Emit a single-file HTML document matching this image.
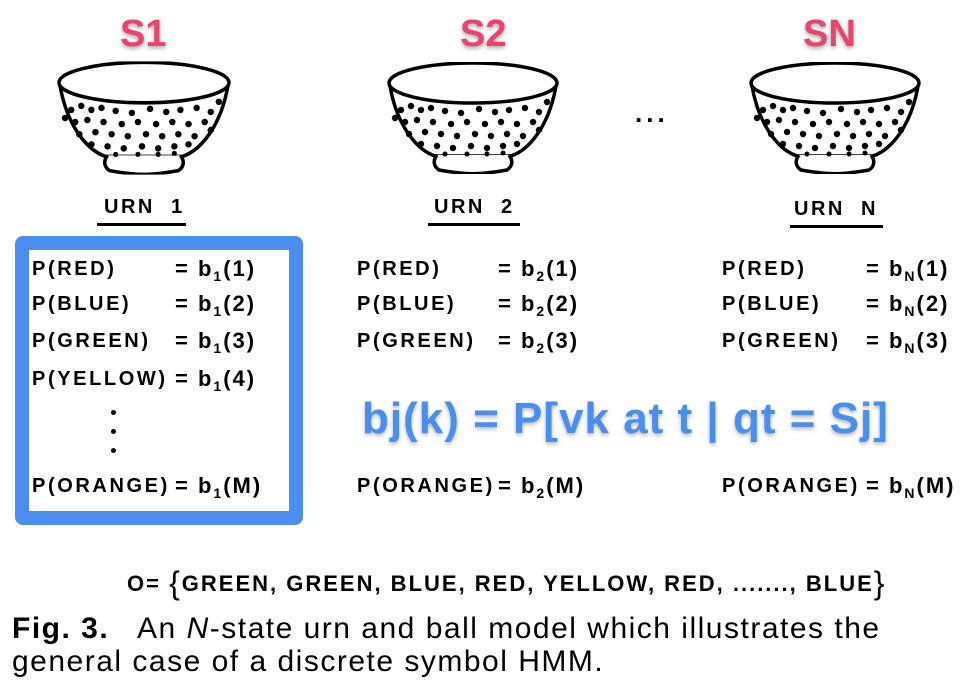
<!DOCTYPE html>
<html><head><meta charset="utf-8"><style>
body{margin:0;width:972px;height:694px;background:#fff;position:relative;overflow:hidden;font-family:"Liberation Sans",sans-serif}
.a{position:absolute;white-space:pre}
.s{font-weight:bold;font-size:38px;color:#e9456f;text-shadow:0 2px 4px rgba(0,0,0,.35),0 0 2px #fff}
.t{font-weight:bold;font-size:20px;letter-spacing:2.6px;color:#000}
.e{font-size:22px;letter-spacing:2px}
.u{font-weight:bold;font-size:20px;letter-spacing:2.5px}
.ul{position:absolute;height:3px;background:#000}
sub{font-size:14px;vertical-align:-5px}
</style></head><body>
<svg width="0" height="0" style="position:absolute">
<defs><symbol id="bowl" viewBox="0 0 172 112">
<path d="M3 24 C10 64 30 88 48 94 L124 94 C142 88 162 64 169 24" fill="#fff" stroke="#000" stroke-width="3.5"/>
<path d="M50 93 C46 98 46 104 52 108 C80 113 92 113 120 108 C126 104 126 98 122 93" fill="#fff" stroke="#000" stroke-width="3.5"/>
<ellipse cx="86" cy="21" rx="84" ry="20" fill="#fff" stroke="#000" stroke-width="3.5"/>
<g fill="#000">
<circle cx="14" cy="48" r="3.2"/><circle cx="24" cy="44" r="3.2"/><circle cx="34" cy="48" r="3.2"/><circle cx="44" cy="46" r="3.2"/><circle cx="58" cy="49" r="3.2"/><circle cx="74" cy="51" r="3.2"/><circle cx="92" cy="47" r="3.2"/><circle cx="108" cy="50" r="3.2"/><circle cx="122" cy="48" r="3.2"/><circle cx="138" cy="46" r="3.2"/><circle cx="152" cy="50" r="3.2"/><circle cx="160" cy="40" r="3.2"/>
<circle cx="18" cy="60" r="3.2"/><circle cx="30" cy="58" r="3.2"/><circle cx="46" cy="60" r="3.2"/><circle cx="64" cy="62" r="3.2"/><circle cx="80" cy="60" r="3.2"/><circle cx="98" cy="62" r="3.2"/><circle cx="114" cy="60" r="3.2"/><circle cx="130" cy="62" r="3.2"/><circle cx="146" cy="60" r="3.2"/><circle cx="8" cy="56" r="3.2"/>
<circle cx="22" cy="72" r="3.2"/><circle cx="38" cy="70" r="3.2"/><circle cx="54" cy="72" r="3.2"/><circle cx="70" cy="74" r="3.2"/><circle cx="88" cy="72" r="3.2"/><circle cx="104" cy="74" r="3.2"/><circle cx="120" cy="72" r="3.2"/><circle cx="136" cy="74" r="3.2"/><circle cx="152" cy="68" r="3.2"/>
<circle cx="34" cy="82" r="3.2"/><circle cx="50" cy="84" r="3.2"/><circle cx="66" cy="86" r="3.2"/><circle cx="84" cy="84" r="3.2"/><circle cx="100" cy="86" r="3.2"/><circle cx="116" cy="84" r="3.2"/><circle cx="130" cy="82" r="3.2"/>
<circle cx="58" cy="92" r="2.5"/><circle cx="80" cy="92" r="2.5"/><circle cx="100" cy="92" r="2.5"/><circle cx="116" cy="91" r="2.5"/>
</g></symbol></defs></svg>

<div class="a s" style="left:120px;top:13px">S1</div>
<div class="a s" style="left:460px;top:13px">S2</div>
<div class="a s" style="left:803px;top:13px">SN</div>

<svg class="a" style="left:57px;top:61px" width="174" height="114" viewBox="0 0 172 112"><use href="#bowl"/></svg>
<svg class="a" style="left:387px;top:61px" width="172" height="114" viewBox="0 0 172 112"><use href="#bowl"/></svg>
<svg class="a" style="left:749px;top:62px" width="172" height="112" viewBox="0 0 172 112"><use href="#bowl"/></svg>

<div class="a" style="left:635px;top:98px;font-size:26px;font-weight:bold;letter-spacing:4px">...</div>

<div class="a u" style="left:104px;top:196px">URN  1</div><div class="ul" style="left:97px;top:223px;width:89px"></div>
<div class="a u" style="left:434px;top:196px">URN  2</div><div class="ul" style="left:428px;top:223px;width:92px"></div>
<div class="a u" style="left:794px;top:198px">URN  N</div><div class="ul" style="left:790px;top:225px;width:93px"></div>

<div class="a" style="left:15px;top:236px;width:260px;height:261px;border:14px solid #4a8ef0;border-radius:8px"></div>

<div class="a t" style="left:32px;top:258px">P(RED)</div><div class="a t e" style="left:175px;top:256px">= b<sub>1</sub>(1)</div>
<div class="a t" style="left:32px;top:293px">P(BLUE)</div><div class="a t e" style="left:175px;top:291px">= b<sub>1</sub>(2)</div>
<div class="a t" style="left:32px;top:330px">P(GREEN)</div><div class="a t e" style="left:175px;top:328px">= b<sub>1</sub>(3)</div>
<div class="a t" style="left:32px;top:368px">P(YELLOW)</div><div class="a t e" style="left:175px;top:366px">= b<sub>1</sub>(4)</div>
<div class="a" style="left:111px;top:410px;width:5px;height:5px;border-radius:50%;background:#000"></div>
<div class="a" style="left:111px;top:429px;width:5px;height:5px;border-radius:50%;background:#000"></div>
<div class="a" style="left:111px;top:448px;width:5px;height:5px;border-radius:50%;background:#000"></div>
<div class="a t" style="left:32px;top:475px">P(ORANGE)</div><div class="a t e" style="left:175px;top:473px">= b<sub>1</sub>(M)</div>

<div class="a t" style="left:357px;top:258px">P(RED)</div><div class="a t e" style="left:498px;top:256px">= b<sub>2</sub>(1)</div>
<div class="a t" style="left:357px;top:293px">P(BLUE)</div><div class="a t e" style="left:498px;top:291px">= b<sub>2</sub>(2)</div>
<div class="a t" style="left:357px;top:330px">P(GREEN)</div><div class="a t e" style="left:498px;top:328px">= b<sub>2</sub>(3)</div>
<div class="a t" style="left:357px;top:475px">P(ORANGE)</div><div class="a t e" style="left:498px;top:473px">= b<sub>2</sub>(M)</div>

<div class="a t" style="left:722px;top:258px">P(RED)</div><div class="a t e" style="left:866px;top:256px">= b<sub>N</sub>(1)</div>
<div class="a t" style="left:722px;top:293px">P(BLUE)</div><div class="a t e" style="left:866px;top:291px">= b<sub>N</sub>(2)</div>
<div class="a t" style="left:722px;top:330px">P(GREEN)</div><div class="a t e" style="left:866px;top:328px">= b<sub>N</sub>(3)</div>
<div class="a t" style="left:722px;top:475px">P(ORANGE)</div><div class="a t e" style="left:866px;top:473px">= b<sub>N</sub>(M)</div>

<div class="a" style="left:362px;top:394px;font-size:44px;font-weight:bold;letter-spacing:1px;color:#4a8ef0;text-shadow:0 2px 4px rgba(0,0,0,.3),0 0 3px #fff">bj(k) = P[vk at t | qt = Sj]</div>

<div class="a" style="left:127px;top:565px;font-size:22px;font-weight:bold;letter-spacing:2px">O= <span style="font-size:32px;font-weight:normal;vertical-align:-3px">{</span>GREEN, GREEN, BLUE, RED, YELLOW, RED, ......., BLUE<span style="font-size:32px;font-weight:normal;vertical-align:-3px">}</span></div>

<div class="a" style="left:12px;top:612px;font-size:30px;letter-spacing:1.5px"><b>Fig. 3.</b>   An <i>N</i>-state urn and ball model which illustrates the</div>
<div class="a" style="left:12px;top:645px;font-size:30px;letter-spacing:1.5px">general case of a discrete symbol HMM.</div>
</body></html>
